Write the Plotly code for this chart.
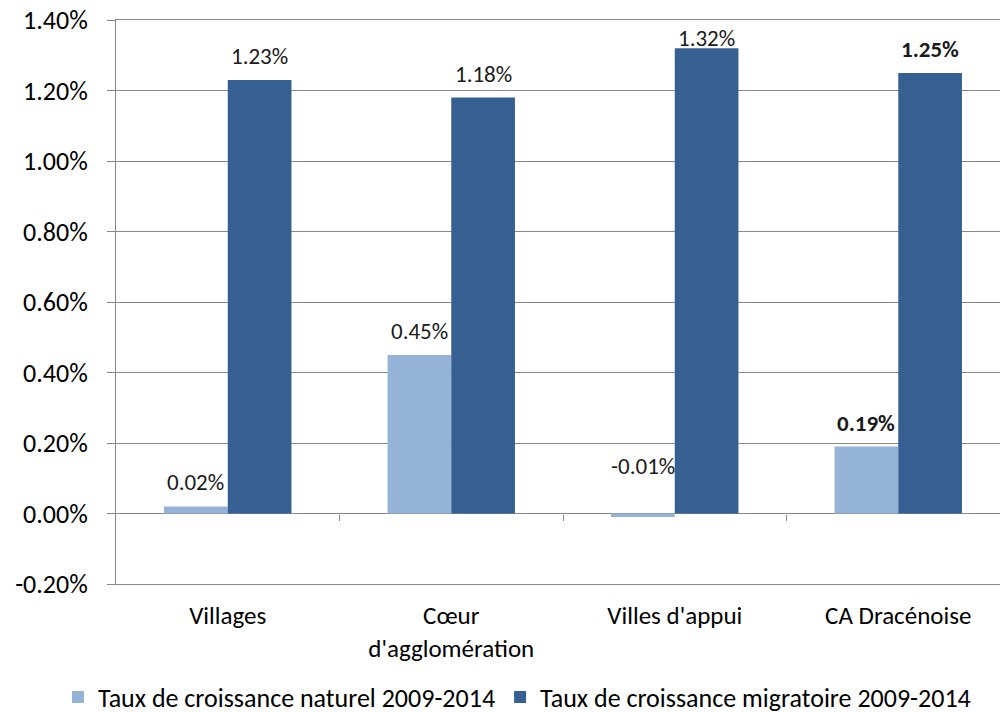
import plotly.graph_objects as go

categories = ["Villages", "Cœur<br>d'agglomération", "Villes d'appui", "CA Dracénoise"]
naturel = [0.02, 0.45, -0.01, 0.19]
migratoire = [1.23, 1.18, 1.32, 1.25]
series_names = ["Taux de croissance naturel 2009-2014", "Taux de croissance migratoire 2009-2014"]
bold_category = "CA Dracénoise"
y_ticks = [-0.2, 0.0, 0.2, 0.4, 0.6, 0.8, 1.0, 1.2, 1.4]
y_ticktext = [f"{v:.2f}%" for v in y_ticks]

LIGHT = "#95B3D7"
DARK = "#366092"
GRID = "#888888"
FONT = "Calibri, Carlito, Open Sans, sans-serif"

W, H = 1000, 713
ML, MR, MT, MB = 116, 0, 20, 129
cat_px = 223.5
n = len(categories)
plot_w = W - ML - MR
x_max = -0.5 + plot_w / cat_px
bargap = 0.43
bar_px = cat_px * (1 - bargap) / 2
y_min, y_max = y_ticks[0], y_ticks[-1]

fig = go.Figure()
fig.add_trace(go.Bar(x=categories, y=naturel, name=series_names[0], marker=dict(color=LIGHT, line=dict(width=0))))
fig.add_trace(go.Bar(x=categories, y=migratoire, name=series_names[1], marker=dict(color=DARK, line=dict(width=0))))

# data labels
plot_h = H - MT - MB
px_per_unit = plot_h / (y_max - y_min)
annotations = []
for s, vals in enumerate([naturel, migratoire]):
    for c, v in zip(categories, vals):
        base = max(v, 0)
        shift = 24 if v >= 0 else 48
        top_room = (y_max - base) * px_per_unit - 18
        shift = min(shift, max(top_room, 8))
        bold = c == bold_category
        txt = f"{v:.2f}%"
        annotations.append(dict(
            x=c, y=base, xref="x", yref="y", text=f"<b>{txt}</b>" if bold else txt,
            showarrow=False, xshift=(s - 0.5) * bar_px, yshift=shift,
            yanchor="middle", xanchor="center",
            font=dict(family=FONT, size=23, color="#1a1a1a"),
        ))

# legend: left edge placed just left of the plot area (in paper units)
legend_x = (58 - ML) / plot_w
legend_y = -(697 - (H - MB)) / plot_h

fig.update_layout(
    width=W, height=H,
    margin=dict(l=ML, r=MR, t=MT, b=MB, autoexpand=False),
    paper_bgcolor="white", plot_bgcolor="white",
    barmode="group", bargap=bargap, bargroupgap=0,
    font=dict(family=FONT, color="black"),
    annotations=annotations,
    showlegend=True,
    legend=dict(orientation="h", xref="paper", yref="paper",
                x=legend_x, xanchor="left", y=legend_y, yanchor="middle",
                font=dict(family=FONT, size=26, color="black"),
                itemwidth=30, tracegroupgap=0),
    xaxis=dict(type="category", range=[-0.5, x_max], showgrid=False,
               showline=True, mirror=True, linecolor=GRID, linewidth=1,
               ticks="", ticklabelstandoff=9, automargin=False,
               tickfont=dict(family=FONT, size=25, color="black")),
    xaxis2=dict(overlaying="x", anchor="free", position=(0 - y_min) / (y_max - y_min),
                range=[-0.5, x_max], tickmode="array",
                tickvals=[i + 0.5 for i in range(n - 1)],
                ticks="outside", ticklen=6, tickcolor=GRID, tickwidth=1,
                showticklabels=False, showgrid=False, showline=False, zeroline=False),
    yaxis=dict(range=[y_min, y_max], tickmode="array", tickvals=y_ticks, ticktext=y_ticktext,
               showgrid=True, gridcolor=GRID, gridwidth=1,
               zeroline=True, zerolinecolor=GRID, zerolinewidth=1,
               showline=True, linecolor=GRID, linewidth=1, automargin=False,
               ticks="outside", ticklen=8, tickcolor=GRID, ticklabelstandoff=14,
               ticklabeloverflow="allow",
               tickfont=dict(family=FONT, size=26, color="black")),
)
# invisible trace to activate xaxis2 (tick marks on the zero line)
fig.add_trace(go.Scatter(x=[0], y=[0], xaxis="x2", mode="markers", marker=dict(opacity=0),
                         showlegend=False, hoverinfo="skip"))

fig.write_html("out.html", config={"displayModeBar": False},
               post_script="document.body.style.margin='0';document.body.style.overflow='hidden';")
